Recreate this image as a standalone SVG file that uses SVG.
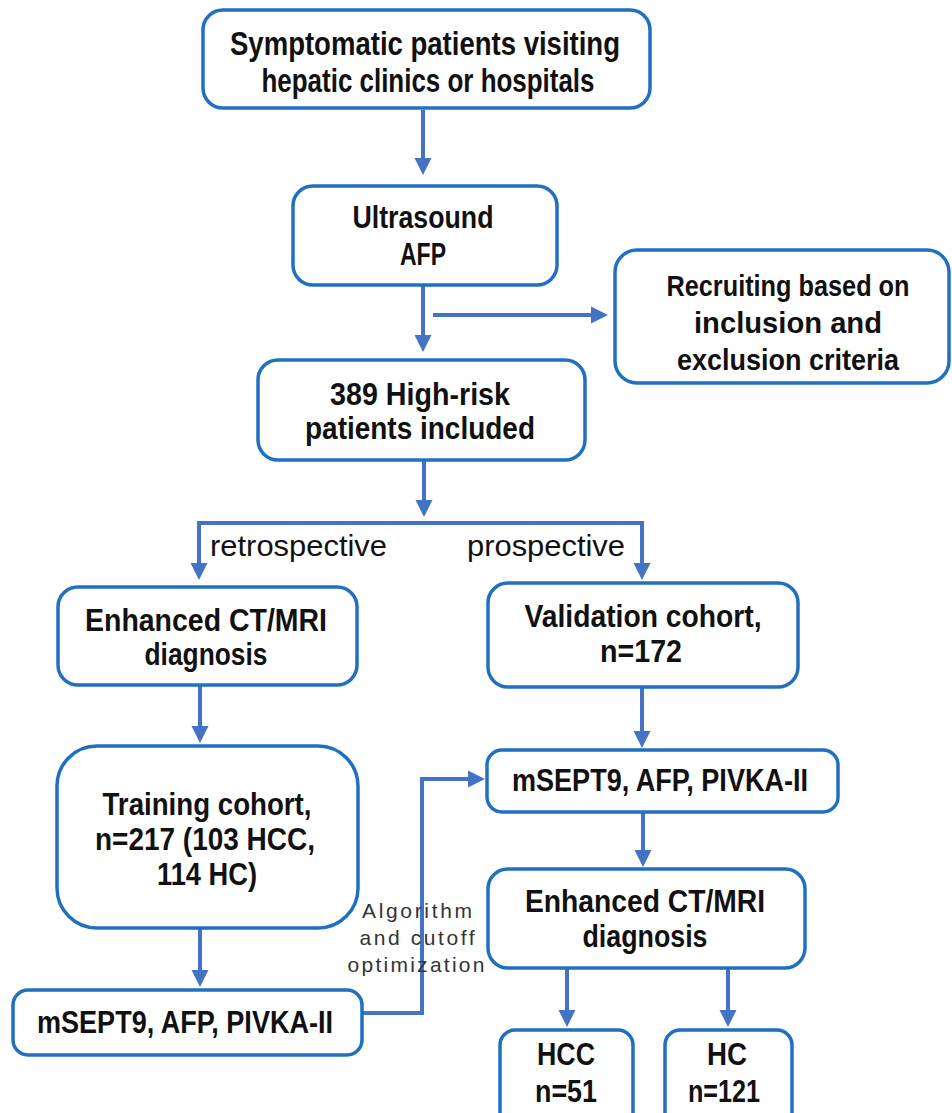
<svg xmlns="http://www.w3.org/2000/svg" width="952" height="1113" viewBox="0 0 952 1113">
<style>
.box{fill:#fff;stroke:#1F70C1;stroke-width:3.5}
.t{font-family:"Liberation Sans",Arial,sans-serif;font-weight:700;font-size:31px;fill:#111;text-anchor:middle}
.big{font-size:33px}
.sm{font-size:29px}
.lbl{font-family:"Liberation Sans",Arial,sans-serif;font-size:30px;fill:#111}
.alg{font-family:"Liberation Sans",Arial,sans-serif;font-size:21px;fill:#333;text-anchor:middle}
.c{fill:none;stroke:#4472C4;stroke-width:4;marker-end:url(#ah)}
</style>
<defs>
<marker id="ah" viewBox="0 -9 17 18" markerWidth="17" markerHeight="18" refX="2" refY="0" markerUnits="userSpaceOnUse" orient="auto">
<path d="M0,-8.5 L17,0 L0,8.5 z" fill="#4472C4"/>
</marker>
</defs>
<rect width="952" height="1113" fill="#fff"/>
<g id="connectors">
<path class="c" d="M423,110 V160"/>
<path class="c" d="M423,285 V337"/>
<path class="c" d="M433,315 H593"/>
<path class="c" d="M424,460 V502"/>
<path class="c" d="M424,523 H199 V565"/>
<path class="c" d="M424,523 H642 V565"/>
<path class="c" d="M200,685 V728"/>
<path class="c" d="M642,687 V733"/>
<path class="c" d="M200,928 V972"/>
<path class="c" d="M643,812 V852"/>
<path class="c" d="M567,968 V1012"/>
<path class="c" d="M728,968 V1012"/>
<path class="c" d="M362,1013 H422 V779 H470"/>
</g>
<g id="n-symptomatic">
<rect class="box" x="203" y="10" width="447" height="98" rx="20"/>
<text class="t big" x="425" y="55" textLength="390" lengthAdjust="spacingAndGlyphs">Symptomatic patients visiting</text>
<text class="t big" x="428" y="92" textLength="333" lengthAdjust="spacingAndGlyphs">hepatic clinics or hospitals</text>
</g>
<g id="n-ultrasound">
<rect class="box" x="293" y="186" width="264" height="99" rx="20"/>
<text class="t" x="423" y="228" textLength="141" lengthAdjust="spacingAndGlyphs">Ultrasound</text>
<text class="t" x="423" y="265" textLength="46" lengthAdjust="spacingAndGlyphs">AFP</text>
</g>
<g id="n-recruiting">
<rect class="box" x="615" y="250" width="334" height="133" rx="22"/>
<text class="t sm" x="788" y="296" textLength="243" lengthAdjust="spacingAndGlyphs">Recruiting based on</text>
<text class="t sm" x="788" y="333" textLength="188" lengthAdjust="spacingAndGlyphs">inclusion and</text>
<text class="t sm" x="788" y="370" textLength="222" lengthAdjust="spacingAndGlyphs">exclusion criteria</text>
</g>
<g id="n-highrisk">
<rect class="box" x="258" y="360" width="327" height="100" rx="20"/>
<text class="t" x="420" y="405" textLength="180" lengthAdjust="spacingAndGlyphs">389 High-risk</text>
<text class="t" x="420" y="439" textLength="230" lengthAdjust="spacingAndGlyphs">patients included</text>
</g>
<g id="labels">
<text class="lbl" x="210" y="556" textLength="177" lengthAdjust="spacingAndGlyphs">retrospective</text>
<text class="lbl" x="467" y="556" textLength="158" lengthAdjust="spacingAndGlyphs">prospective</text>
<text class="alg" x="417" y="918" textLength="110" lengthAdjust="spacing">Algorithm</text>
<text class="alg" x="417" y="945" textLength="115" lengthAdjust="spacing">and cutoff</text>
<text class="alg" x="416" y="972" textLength="137" lengthAdjust="spacing">optimization</text>
</g>
<g id="n-enhanced-left">
<rect class="box" x="58" y="587" width="299" height="98" rx="20"/>
<text class="t" x="206" y="631" textLength="242" lengthAdjust="spacingAndGlyphs">Enhanced CT/MRI</text>
<text class="t" x="206" y="665" textLength="123" lengthAdjust="spacingAndGlyphs">diagnosis</text>
</g>
<g id="n-validation">
<rect class="box" x="488" y="583" width="310" height="104" rx="20"/>
<text class="t" x="643" y="627" textLength="237" lengthAdjust="spacingAndGlyphs">Validation cohort,</text>
<text class="t" x="641" y="662" textLength="82" lengthAdjust="spacingAndGlyphs">n=172</text>
</g>
<g id="n-training">
<rect class="box" x="57" y="746" width="301" height="182" rx="40"/>
<text class="t" x="207" y="815" textLength="209" lengthAdjust="spacingAndGlyphs">Training cohort,</text>
<text class="t" x="205" y="850" textLength="220" lengthAdjust="spacingAndGlyphs">n=217 (103 HCC,</text>
<text class="t" x="207" y="885" textLength="100" lengthAdjust="spacingAndGlyphs">114 HC)</text>
</g>
<g id="n-markers-right">
<rect class="box" x="487" y="750" width="351" height="62" rx="15"/>
<text class="t" x="660" y="791" textLength="296" lengthAdjust="spacingAndGlyphs">mSEPT9, AFP, PIVKA-II</text>
</g>
<g id="n-enhanced-right">
<rect class="box" x="488" y="869" width="317" height="99" rx="20"/>
<text class="t" x="645" y="912" textLength="240" lengthAdjust="spacingAndGlyphs">Enhanced CT/MRI</text>
<text class="t" x="645" y="947" textLength="125" lengthAdjust="spacingAndGlyphs">diagnosis</text>
</g>
<g id="n-markers-left">
<rect class="box" x="13" y="990" width="349" height="65" rx="15"/>
<text class="t" x="185" y="1033" textLength="296" lengthAdjust="spacingAndGlyphs">mSEPT9, AFP, PIVKA-II</text>
</g>
<g id="n-hcc">
<rect class="box" x="500" y="1030" width="133" height="100" rx="15"/>
<text class="t" x="566" y="1065" textLength="58" lengthAdjust="spacingAndGlyphs">HCC</text>
<text class="t" x="566" y="1102" textLength="62" lengthAdjust="spacingAndGlyphs">n=51</text>
</g>
<g id="n-hc">
<rect class="box" x="665" y="1030" width="127" height="100" rx="15"/>
<text class="t" x="727" y="1065" textLength="40" lengthAdjust="spacingAndGlyphs">HC</text>
<text class="t" x="724" y="1102" textLength="72" lengthAdjust="spacingAndGlyphs">n=121</text>
</g>
</svg>
